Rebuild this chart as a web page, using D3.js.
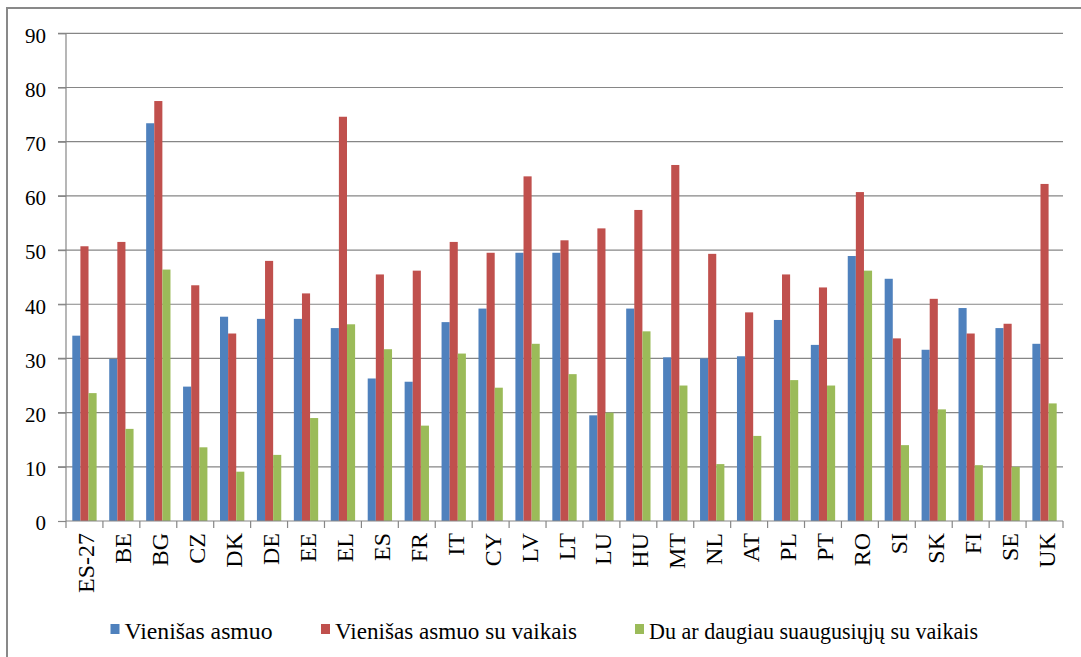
<!DOCTYPE html>
<html>
<head>
<meta charset="utf-8">
<script src="https://cdn.jsdelivr.net/npm/d3@7"></script>
<style>
  body { margin: 0; background: #fff; }
  svg text { font-family: "Liberation Serif", "Times New Roman", "DejaVu Serif", serif !important; fill: #000; }
</style>
</head>
<body>
<div id="chart"></div>
<script>
// data
var countries = ["ES-27", "BE", "BG", "CZ", "DK", "DE", "EE", "EL", "ES", "FR", "IT", "CY", "LV", "LT",
  "LU", "HU", "MT", "NL", "AT", "PL", "PT", "RO", "SI", "SK", "FI", "SE", "UK"];
var seriesNames = ["Vienišas asmuo", "Vienišas asmuo su vaikais", "Du ar daugiau suaugusiųjų su vaikais"];
var single = [34.2, 29.9, 73.4, 24.8, 37.7, 37.3, 37.3, 35.6, 26.3, 25.7, 36.7, 39.2, 49.5, 49.5,
  19.5, 39.2, 30.2, 30.0, 30.4, 37.1, 32.5, 48.9, 44.7, 31.6, 39.3, 35.6, 32.7];
var singleKids = [50.7, 51.5, 77.5, 43.5, 34.6, 48.0, 42.0, 74.6, 45.5, 46.2, 51.5, 49.5, 63.6, 51.8,
  54.0, 57.4, 65.7, 49.3, 38.5, 45.5, 43.1, 60.7, 33.7, 41.0, 34.6, 36.4, 62.2];
var adultsKids = [23.6, 17.0, 46.4, 13.6, 9.1, 12.2, 19.0, 36.3, 31.7, 17.6, 30.9, 24.6, 32.7, 27.1,
  20.0, 35.0, 25.0, 10.5, 15.7, 26.0, 25.0, 46.2, 14.0, 20.6, 10.3, 10.0, 21.7];
var yTicks = [0, 10, 20, 30, 40, 50, 60, 70, 80, 90];
var colors = ["#4F81BD", "#C0504D", "#9BBB59"];

var svgWidth = 1081;
var svgHeight = 657;
var serif = "'Liberation Serif', 'Times New Roman', 'DejaVu Serif', serif";

var margin = { top: 33.3, right: 18, bottom: 136, left: 66 };
var width = 1063 - margin.left;
var height = 521 - margin.top;

var svg = d3.select("#chart")
  .append("svg")
  .attr("width", svgWidth)
  .attr("height", svgHeight)
  .attr("font-family", serif);

// outer frame (cut by the picture edges on right and bottom)
svg.append("rect")
  .attr("x", 7).attr("y", 8)
  .attr("width", 1200).attr("height", 800)
  .attr("fill", "none")
  .attr("stroke", "#898989")
  .attr("stroke-width", 2);

var chartGroup = svg.append("g")
  .attr("transform", `translate(${margin.left}, ${margin.top})`);

var xScale = d3.scaleBand()
  .domain(countries)
  .range([0, width])
  .padding(0);

var x1 = d3.scaleBand()
  .domain([0, 1, 2])
  .range([6.3, xScale.bandwidth() - 6.3]);

var yScale = d3.scaleLinear()
  .domain([0, 90])
  .range([height, 0]);

// gridlines
chartGroup.append("g")
  .selectAll("line")
  .data(yTicks.filter(d => d > 0))
  .enter()
  .append("line")
  .attr("x1", -8)
  .attr("x2", width)
  .attr("y1", d => yScale(d))
  .attr("y2", d => yScale(d))
  .attr("stroke", "#868686")
  .attr("stroke-width", 1.2);

// bars
var data = countries.map(function(c, i) {
  return { name: c, values: [single[i], singleKids[i], adultsKids[i]] };
});

var groups = chartGroup.selectAll(".grp")
  .data(data)
  .enter()
  .append("g")
  .attr("transform", d => `translate(${xScale(d.name)},0)`);

groups.selectAll("rect")
  .data(d => d.values)
  .enter()
  .append("rect")
  .attr("x", (d, i) => x1(i))
  .attr("width", x1.bandwidth())
  .attr("y", d => yScale(d))
  .attr("height", d => height - yScale(d))
  .attr("fill", (d, i) => colors[i]);

// y axis
var leftAxis = d3.axisLeft(yScale)
  .tickValues(yTicks)
  .tickSize(8)
  .tickPadding(12);

var yAxisG = chartGroup.append("g").call(leftAxis)
  .attr("font-family", serif)
  .attr("font-size", 21);
yAxisG.select(".domain").remove();
yAxisG.selectAll(".tick line").attr("stroke", "#868686").attr("stroke-width", 1.2);
yAxisG.selectAll(".tick text")
  .style("font-family", serif)
  .style("font-size", "21px")
  .attr("dy", "0.42em");

chartGroup.append("line")
  .attr("x1", 0).attr("x2", 0)
  .attr("y1", 0).attr("y2", height)
  .attr("stroke", "#868686")
  .attr("stroke-width", 1.2);

// x axis
chartGroup.append("line")
  .attr("x1", 0).attr("x2", width)
  .attr("y1", height).attr("y2", height)
  .attr("stroke", "#868686")
  .attr("stroke-width", 1.2);

chartGroup.append("g")
  .selectAll("line")
  .data(countries.concat(["end"]))
  .enter()
  .append("line")
  .attr("x1", (d, i) => i * xScale.bandwidth())
  .attr("x2", (d, i) => i * xScale.bandwidth())
  .attr("y1", height)
  .attr("y2", height + 7)
  .attr("stroke", "#868686")
  .attr("stroke-width", 1.2);

chartGroup.append("g")
  .selectAll("text")
  .data(countries)
  .enter()
  .append("text")
  .attr("transform", d => `translate(${xScale(d) + xScale.bandwidth() / 2 + 10}, ${height + 12}) rotate(-90)`)
  .attr("text-anchor", "end")
  .style("font-family", serif)
  .style("font-size", "24px")
  .text(d => d);

// legend
var legendX = [110.5, 321, 635];
var legendTextW = [148, 242, 329];
var legend = svg.append("g");

legend.selectAll("rect")
  .data(seriesNames)
  .enter()
  .append("rect")
  .attr("x", (d, i) => legendX[i])
  .attr("y", 624)
  .attr("width", 9)
  .attr("height", 10)
  .attr("fill", (d, i) => colors[i]);

legend.selectAll("text")
  .data(seriesNames)
  .enter()
  .append("text")
  .attr("x", (d, i) => legendX[i] + 14)
  .attr("y", 638.5)
  .style("font-family", serif)
  .style("font-size", "23.5px")
  .attr("textLength", (d, i) => legendTextW[i])
  .attr("lengthAdjust", "spacingAndGlyphs")
  .text(d => d);
</script>
</body>
</html>
